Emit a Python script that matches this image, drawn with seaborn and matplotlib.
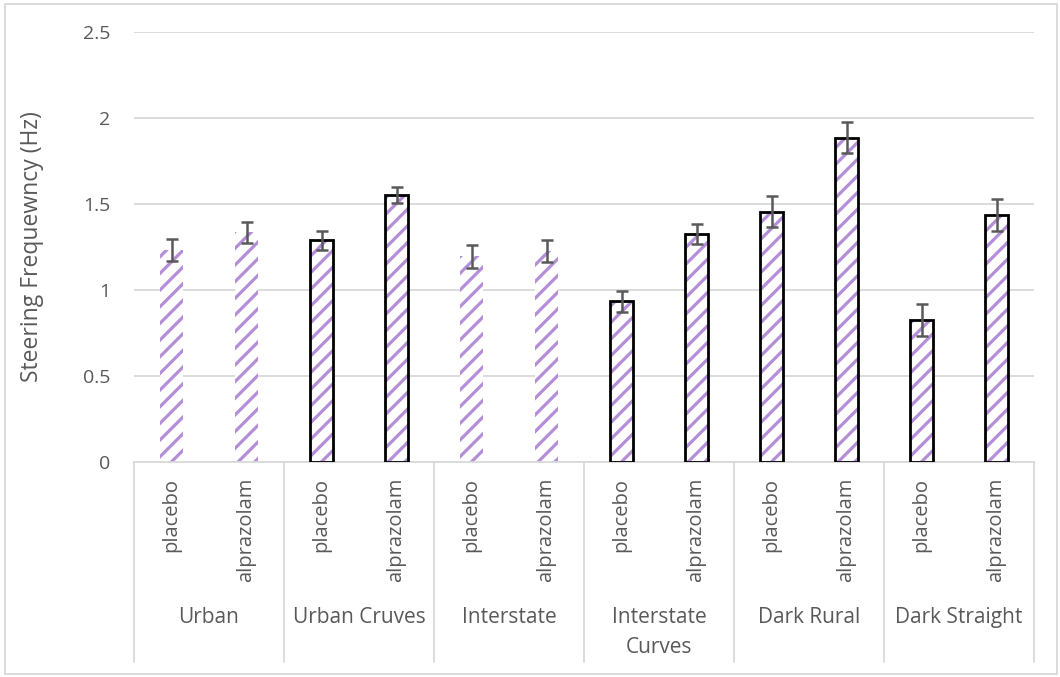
import matplotlib
matplotlib.use("Agg")
import matplotlib.pyplot as plt
import seaborn as sns
import pandas as pd
from matplotlib.patches import Rectangle

categories = ["Urban", "Urban Cruves", "Interstate", "Interstate\nCurves", "Dark Rural", "Dark Straight"]
conditions = ["placebo", "alprazolam"]
placebo_vals = [1.235, 1.29, 1.195, 0.935, 1.455, 0.825]
alprazolam_vals = [1.335, 1.55, 1.225, 1.325, 1.885, 1.435]
placebo_err = [0.064, 0.055, 0.065, 0.061, 0.09, 0.094]
alprazolam_err = [0.061, 0.047, 0.065, 0.057, 0.089, 0.094]
outlined = [False, True, False, True, True, True]
y_ticks = [0, 0.5, 1, 1.5, 2, 2.5]
y_label = "Steering Frequewncy (Hz)"

rows = []
for i, c in enumerate(categories):
    rows.append({"key": f"{i}-placebo", "cat": c, "cond": "placebo", "val": placebo_vals[i], "err": placebo_err[i], "out": outlined[i]})
    rows.append({"key": f"{i}-alprazolam", "cat": c, "cond": "alprazolam", "val": alprazolam_vals[i], "err": alprazolam_err[i], "out": outlined[i]})
df = pd.DataFrame(rows)

sns.set_theme(style="white")
plt.rcParams["font.family"] = ["Open Sans", "DejaVu Sans"]
plt.rcParams["hatch.linewidth"] = 2.3

purple = "#B48ED6"
gray_text = "#595959"
grid_c = "#D9D9D9"

fig = plt.figure(figsize=(10.6, 6.77), dpi=100)
ax = fig.add_axes([134 / 1060, 1 - 462 / 677, 900 / 1060, 430 / 677])

sns.barplot(data=df, x="key", y="val", order=list(df["key"]), color="white",
            width=0.31, ax=ax, errorbar=None, saturation=1)

for p, (_, r) in zip(ax.patches, df.iterrows()):
    p.set_facecolor("white")
    p.set_edgecolor(purple)
    p.set_hatch("//")
    p.set_linewidth(0)
    if r["out"]:
        ax.add_patch(Rectangle(p.get_xy(), p.get_width(), p.get_height(), fill=False,
                               edgecolor="black", linewidth=2.0, zorder=3))

ax.errorbar(range(len(df)), df["val"], yerr=df["err"], fmt="none", ecolor="#595959",
            elinewidth=1.8, capsize=4, capthick=1.8, zorder=4)

ax.set_xlim(-0.5, len(df) - 0.5)
ax.set_ylim(0, 2.5)
ax.set_yticks(y_ticks)
ax.set_yticklabels([f"{t:g}" for t in y_ticks], color=gray_text, fontsize=14)
ax.tick_params(axis="y", length=0, pad=17)
ax.yaxis.grid(True, color=grid_c, linewidth=1.3)
ax.set_axisbelow(True)
for s in ["top", "right", "left"]:
    ax.spines[s].set_visible(False)
ax.spines["bottom"].set_color(grid_c)
ax.spines["bottom"].set_linewidth(1.3)
ax.set_xticks([])
ax.set_xlabel("")
ax.set_ylabel(y_label, color=gray_text, fontsize=16.5)
ax.yaxis.set_label_coords(-90 / 900, 0.5)

trans = ax.get_xaxis_transform()
# condition labels (rotated)
for i, r in df.iterrows():
    ax.text(i, -16 / 430, r["cond"], rotation=90, ha="center", va="top",
            color=gray_text, fontsize=14.5, transform=trans)
# category labels
for j, c in enumerate(categories):
    ax.text(2 * j + 0.5, -145 / 430, c, ha="center", va="top", color=gray_text,
            fontsize=15, transform=trans, linespacing=1.55)
# dividers
for b in range(len(categories) + 1):
    ax.plot([2 * b - 0.5, 2 * b - 0.5], [0, -200 / 430], color=grid_c, linewidth=1.3,
            transform=trans, clip_on=False)

fig.patches.append(Rectangle((5 / 1060, 3 / 677), 1052 / 1060, 670 / 677, fill=False,
                             edgecolor=grid_c, linewidth=1.3, transform=fig.transFigure))

fig.savefig("out.png", dpi=100, facecolor="white")
